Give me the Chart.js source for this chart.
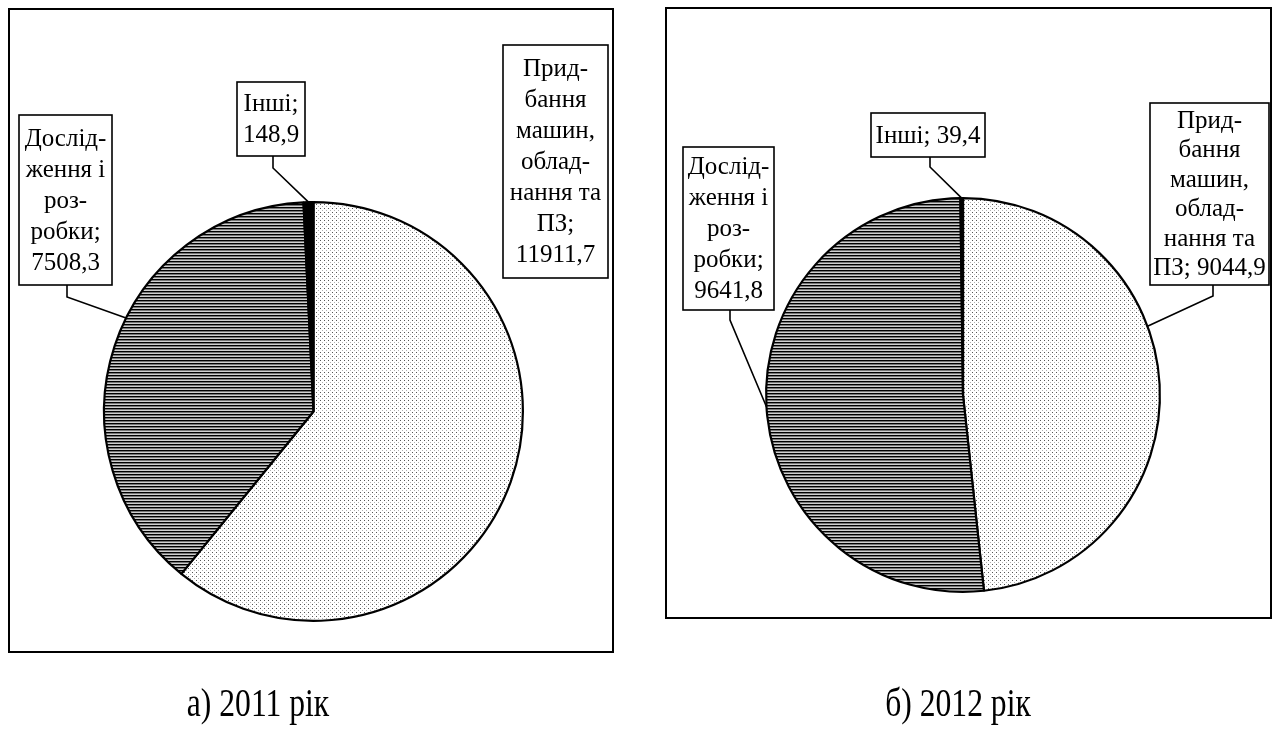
<!DOCTYPE html>
<html>
<head>
<meta charset="utf-8">
<script src="https://cdn.jsdelivr.net/npm/chart.js@4.4.1/dist/chart.umd.min.js"></script>
<style>
  html, body { margin: 0; padding: 0; background: #fff; }
  #wrap { position: relative; width: 1275px; height: 729px; }
  canvas { position: absolute; left: 0; top: 0; }
</style>
</head>
<body>
<div id="wrap">
  <canvas id="chart2011" width="1275" height="729"></canvas>
  <canvas id="chart2012" width="1275" height="729"></canvas>
</div>
<script>
// data
const categories = ['Придбання машин, обладнання та ПЗ', 'Дослідження і розробки', 'Інші'];
const values2011 = [11911.7, 7508.3, 148.9];
const values2012 = [9044.9, 9641.8, 39.4];
const captions = ['а) 2011 рік', 'б) 2012 рік'];

const fmt = v => v.toFixed(1).replace('.', ',');

// fill patterns
function dotPattern() {
    const c = document.createElement('canvas');
    c.width = 4; c.height = 4;
    const g = c.getContext('2d');
    g.fillStyle = '#fff';
    g.fillRect(0, 0, 4, 4);
    g.fillStyle = '#555';
    g.fillRect(0, 0, 1, 1);
    g.fillStyle = '#b0b0b0';
    g.fillRect(2, 2, 1, 1);
    return g.createPattern(c, 'repeat');
}

function stripePattern() {
    const c = document.createElement('canvas');
    c.width = 4; c.height = 3;
    const g = c.getContext('2d');
    g.fillStyle = '#000';
    g.fillRect(0, 0, 4, 1);
    g.fillStyle = '#767676';
    g.fillRect(0, 1, 4, 1);
    g.fillStyle = '#cfcfcf';
    g.fillRect(0, 2, 4, 1);
    return g.createPattern(c, 'repeat');
}

const fills = [dotPattern(), stripePattern(), '#000'];

// frame, callout boxes and caption
const calloutPlugin = {
    id: 'callouts',
    afterDraw(chart, args, opts) {
        const ctx = chart.ctx;
        const meta = chart.getDatasetMeta(0);
        ctx.save();
        ctx.strokeStyle = '#000';
        ctx.lineWidth = 2;
        const f = opts.frame;
        ctx.strokeRect(f[0], f[1], f[2], f[3]);

        ctx.lineWidth = 1.6;
        opts.labels.forEach((lb, i) => {
            const arc = meta.data[i];
            if (lb.leader) {
                const a = arc.startAngle + (arc.endAngle - arc.startAngle) * lb.at;
                const px = arc.x + Math.cos(a) * arc.outerRadius;
                const py = arc.y + Math.sin(a) * arc.outerRadius;
                ctx.beginPath();
                ctx.moveTo(lb.leader[0], lb.y + lb.h);
                ctx.lineTo(lb.leader[0], lb.leader[1]);
                ctx.lineTo(px, py);
                ctx.stroke();
            }
            ctx.fillStyle = '#fff';
            ctx.fillRect(lb.x, lb.y, lb.w, lb.h);
            ctx.strokeRect(lb.x, lb.y, lb.w, lb.h);
            ctx.fillStyle = '#000';
            ctx.font = '25px "Liberation Serif", "Times New Roman", serif';
            ctx.textAlign = 'center';
            ctx.textBaseline = 'middle';
            const lh = lb.lh || 31;
            const top = lb.y + lb.h / 2 - (lb.lines.length - 1) * lh / 2;
            lb.lines.forEach((t, k) => ctx.fillText(t, lb.x + lb.w / 2, top + k * lh + 1));
        });

        // caption, Times compressed horizontally
        ctx.font = '40px "Liberation Serif", "Times New Roman", serif';
        ctx.textAlign = 'center';
        ctx.textBaseline = 'middle';
        ctx.translate(opts.caption.x, opts.caption.y);
        ctx.scale(0.79, 1);
        ctx.fillText(opts.caption.text, 0, 0);
        ctx.restore();
    }
};

function makePie(id, values, padding, callouts) {
    new Chart(document.getElementById(id), {
        type: 'pie',
        data: {
            labels: categories,
            datasets: [{
                data: values,
                backgroundColor: fills,
                borderColor: '#000',
                borderWidth: 2.2
            }]
        },
        options: {
            responsive: false,
            animation: false,
            events: [],
            layout: { padding: padding },
            plugins: {
                legend: { display: false },
                tooltip: { enabled: false },
                callouts: callouts
            }
        },
        plugins: [calloutPlugin]
    });
}

makePie('chart2011', values2011,
    { left: 103, right: 751, top: 201, bottom: 107 },
    {
        frame: [9, 9, 604, 643],
        caption: { text: captions[0], x: 258, y: 705 },
        labels: [
            { x: 503, y: 45, w: 105, h: 233, lines: ['Прид-', 'бання', 'машин,', 'облад-', 'нання та', 'ПЗ;', fmt(values2011[0])] },
            { x: 19, y: 115, w: 93, h: 170, lines: ['Дослід-', 'ження і', 'роз-', 'робки;', fmt(values2011[1])], leader: [67, 297], at: 0.56 },
            { x: 237, y: 82, w: 68, h: 74, lines: ['Інші;', fmt(values2011[2])], leader: [273, 168], at: 0.5 }
        ]
    });

makePie('chart2012', values2012,
    { left: 765, right: 114, top: 197, bottom: 136 },
    {
        frame: [666, 8, 605, 610],
        caption: { text: captions[1], x: 958, y: 705 },
        labels: [
            { x: 1150, y: 103, w: 119, h: 182, lh: 29.5, lines: ['Прид-', 'бання', 'машин,', 'облад-', 'нання та', 'ПЗ; ' + fmt(values2012[0])], leader: [1213, 296], at: 0.4 },
            { x: 683, y: 147, w: 91, h: 163, lines: ['Дослід-', 'ження і', 'роз-', 'робки;', fmt(values2012[1])], leader: [730, 320], at: 0.5 },
            { x: 871, y: 113, w: 114, h: 44, lines: ['Інші; ' + fmt(values2012[2])], leader: [930, 167], at: 0.5 }
        ]
    });
</script>
</body>
</html>
